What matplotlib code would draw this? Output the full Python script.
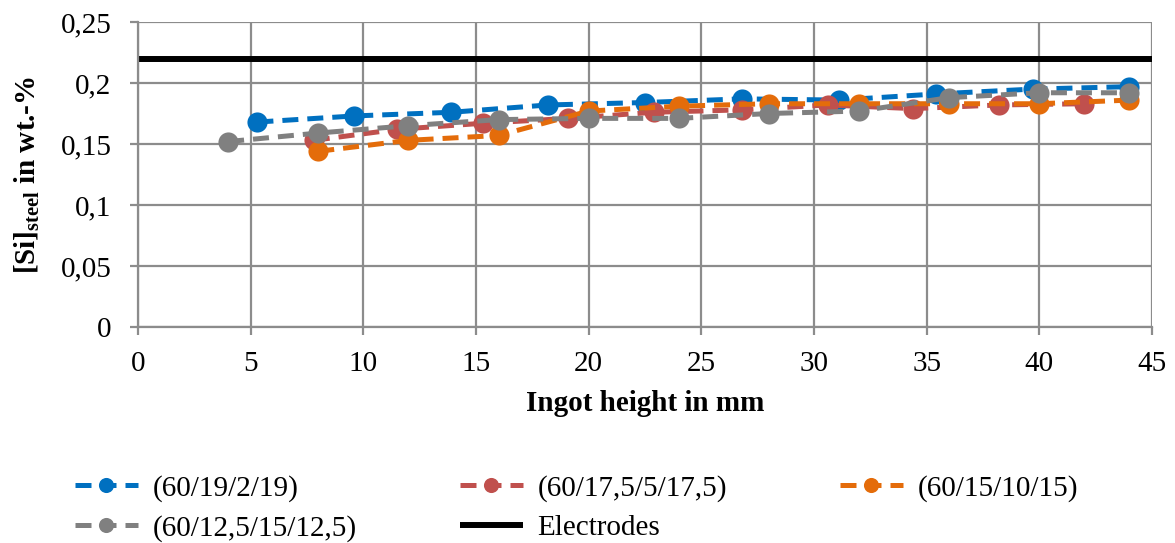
import matplotlib
matplotlib.use('Agg')
import matplotlib.pyplot as plt
import matplotlib.ticker as ticker
import numpy as np


# Data
x_blue = [5.3, 9.6, 13.9, 18.2, 22.5, 26.8, 31.1, 35.4, 39.7, 44.0]
y_blue = [0.168, 0.173, 0.176, 0.182, 0.184, 0.187, 0.186, 0.191, 0.195, 0.197]

x_red = [7.8, 11.5, 15.3, 19.1, 22.9, 26.8, 30.6, 34.4, 38.2, 42.0]
y_red = [0.153, 0.162, 0.167, 0.171, 0.176, 0.178, 0.182, 0.179, 0.182, 0.183]

x_orange = [8, 12, 16, 20, 24, 28, 32, 36, 40, 44]
y_orange = [0.144, 0.153, 0.157, 0.177, 0.181, 0.183, 0.183, 0.183, 0.183, 0.186]

x_gray = [4, 8, 12, 16, 20, 24, 28, 32, 36, 40, 44]
y_gray = [0.152, 0.159, 0.165, 0.170, 0.171, 0.171, 0.175, 0.177, 0.188, 0.192, 0.192]

x_electrodes = [0, 45]
y_electrodes = [0.22, 0.22]

labels = ['(60/19/2/19)', '(60/17,5/5/17,5)', '(60/15/10/15)',
          '(60/12,5/15/12,5)', 'Electrodes']

# Plt parameters setting
plt.rcParams['font.family'] = ['Liberation Serif', 'DejaVu Serif']
plt.rcParams['font.size'] = 21
plt.rcParams['mathtext.fontset'] = 'custom'
plt.rcParams['mathtext.rm'] = 'Liberation Serif:bold'
plt.rcParams['mathtext.bf'] = 'Liberation Serif:bold'
plt.rcParams['mathtext.default'] = 'rm'

BLUE = '#0070C0'
RED = '#C0504D'
ORANGE = '#E46C0A'
GRAY = '#808080'
GRID = '#8C8C8C'

W, H = 1175, 543
fig = plt.figure(figsize=(W/100, H/100), dpi=100)
ax = fig.add_axes([138/W, 1-327/H, (1152-138)/W, (327-22)/H])

dash = (0, (3.2, 1.8))
style = dict(linestyle=dash, linewidth=3.6, marker='o', markersize=14.5,
             markeredgewidth=0)
h_blue, = ax.plot(x_blue, y_blue, color=BLUE, label=labels[0], **style)
h_red, = ax.plot(x_red, y_red, color=RED, label=labels[1], **style)
h_orange, = ax.plot(x_orange, y_orange, color=ORANGE, label=labels[2], **style)
h_gray, = ax.plot(x_gray, y_gray, color=GRAY, label=labels[3], **style)
h_el, = ax.plot(x_electrodes, y_electrodes, color='black', linewidth=4.3,
                solid_capstyle='butt', label=labels[4])

ax.set_xlim(0, 45)
ax.set_ylim(0, 0.25)
ax.xaxis.set_major_locator(ticker.MultipleLocator(5))
ax.yaxis.set_major_locator(ticker.MultipleLocator(0.05))
ax.yaxis.set_major_formatter(ticker.FuncFormatter(
    lambda v, p: ('%g' % round(v, 2)).replace('.', ',')))

ax.grid(True, color=GRID, linewidth=1.6)
ax.set_axisbelow(True)
for s in ['top', 'right']:
    ax.spines[s].set_visible(False)
for s in ['left', 'bottom']:
    ax.spines[s].set_color(GRID)
    ax.spines[s].set_linewidth(1.6)
ax.tick_params(axis='both', color=GRID, width=1.6, length=6)
ax.tick_params(axis='x', pad=11)
ax.tick_params(axis='y', pad=13)

ax.set_xlabel('Ingot height in mm', fontweight='bold')
ax.xaxis.set_label_coords(0.5, -(390-327)/305)
ax.set_ylabel(r'[Si]$_{steel}$ in wt.-%', fontweight='bold')
ax.yaxis.set_label_coords(-(138-42)/1014, 0.5)

# Legend: three columns placed like the reference
columns = [[h_blue, h_gray], [h_red, h_el], [h_orange]]
col_x = [75, 460, 840]
for hs, cx in zip(columns, col_x):
    fig.legend(handles=hs, labels=[h.get_label() for h in hs],
               frameon=False, loc='upper left',
               bbox_to_anchor=(cx/W, 1-475/H),
               handlelength=2.15, handletextpad=0.5, markerscale=0.75,
               labelspacing=0.45, borderaxespad=0, borderpad=0, numpoints=1)

fig.savefig('out.png', dpi=100)
